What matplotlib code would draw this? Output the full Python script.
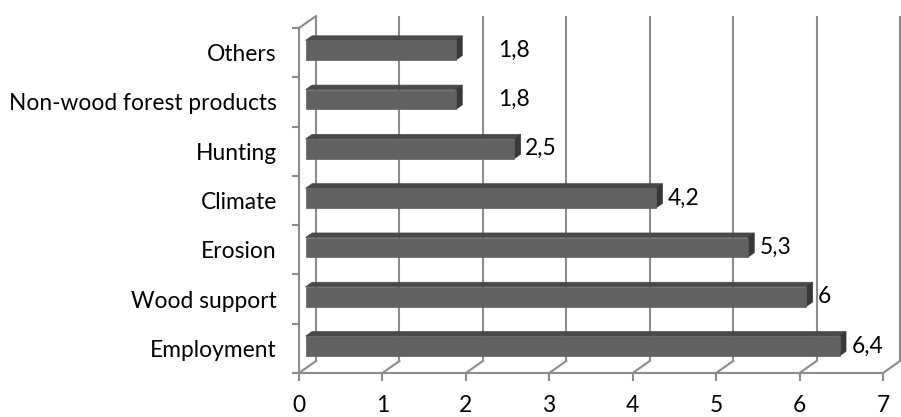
import matplotlib
matplotlib.use("Agg")
import matplotlib.pyplot as plt
from matplotlib.patches import Polygon
from matplotlib.ticker import FixedLocator

categories = ["Employment", "Wood support", "Erosion", "Climate", "Hunting",
              "Non-wood forest products", "Others"]
values = [6.4, 6.0, 5.3, 4.2, 2.5, 1.8, 1.8]
x_ticks = [0, 1, 2, 3, 4, 5, 6, 7]

# style / layout
label_pad_px = [6, 5, 5, 5, 4, 36, 36]
W, H, DPI = 901, 417, 100
front_col = "#616161"
top_col = "#494949"
side_col = "#383838"
grid_col = "#8c8c8c"
lw = 1.5
font = ["Lato", "DejaVu Sans"]
fs = 16.4

plt.rcParams["font.family"] = font

fig = plt.figure(figsize=(W / DPI, H / DPI), dpi=DPI)
x0_px, x7_px = 299, 883
ybot_px, ytop_px = 373, 28
ax = fig.add_axes([x0_px / W, (H - ybot_px) / H,
                   (x7_px - x0_px) / W, (ybot_px - ytop_px) / H])
xmax = x_ticks[-1]
n = len(categories)
ax.set_xlim(0, xmax)
ax.set_ylim(-0.5, n - 0.5)

px_per_x = (x7_px - x0_px) / xmax
px_per_y = (ybot_px - ytop_px) / n
DX = 17 / px_per_x
DY = 12 / px_per_y

for s in ["top", "right"]:
    ax.spines[s].set_visible(False)
for s in ["left", "bottom"]:
    ax.spines[s].set_color(grid_col)
    ax.spines[s].set_linewidth(lw)

# back wall gridlines and floor diagonals
for v in x_ticks:
    ax.plot([v + DX, v + DX], [-0.5 + DY, n - 0.5 + DY], color=grid_col,
            lw=lw, clip_on=False, zorder=1, solid_capstyle="butt")
    ax.plot([v, v + DX], [-0.5, -0.5 + DY], color=grid_col, lw=lw,
            clip_on=False, zorder=1)
# left wall top edge
ax.plot([0, DX], [n - 0.5, n - 0.5 + DY], color=grid_col, lw=lw,
        clip_on=False, zorder=1)

# ticks
ax.set_xticks(x_ticks)
ax.set_xticklabels([str(t) for t in x_ticks], fontsize=fs)
ax.tick_params(axis="x", which="major", direction="out", length=6,
               width=lw, color=grid_col, pad=10)
ax.set_yticks(range(n))
ax.set_yticklabels(categories, fontsize=fs)
ax.yaxis.set_minor_locator(FixedLocator([i - 0.5 for i in range(n + 1)]))
ax.tick_params(axis="y", which="major", length=0, pad=16)
ax.tick_params(axis="y", which="minor", direction="out", length=5,
               width=lw, color=grid_col)

# bars
f1, f2 = 0.39, 0.77
bar_yshift = 2.4 / px_per_y
h = 0.2
for i, v in enumerate(values):
    a1x, a1y = f1 * DX, bar_yshift
    a2x, a2y = f2 * DX, bar_yshift + (f2 - f1) * DY
    front = [(a1x, i - h + a1y), (v + a1x, i - h + a1y),
             (v + a1x, i + h + a1y), (a1x, i + h + a1y)]
    top = [(a1x, i + h + a1y), (v + a1x, i + h + a1y),
           (v + a2x, i + h + a2y), (a2x, i + h + a2y)]
    side = [(v + a1x, i - h + a1y), (v + a2x, i - h + a2y),
            (v + a2x, i + h + a2y), (v + a1x, i + h + a1y)]
    for poly, c in [(top, top_col), (side, side_col), (front, front_col)]:
        ax.add_patch(Polygon(poly, closed=True, facecolor=c, edgecolor=c,
                             lw=0.5, clip_on=False, zorder=3))
    lbl = f"{v:g}".replace(".", ",")
    ax.annotate(lbl, xy=(v + a2x, i + a1y), xytext=(label_pad_px[i] * 0.72, 0),
                textcoords="offset points", ha="left", va="center",
                fontsize=fs, zorder=4, annotation_clip=False)

fig.savefig("out.png", dpi=DPI)
